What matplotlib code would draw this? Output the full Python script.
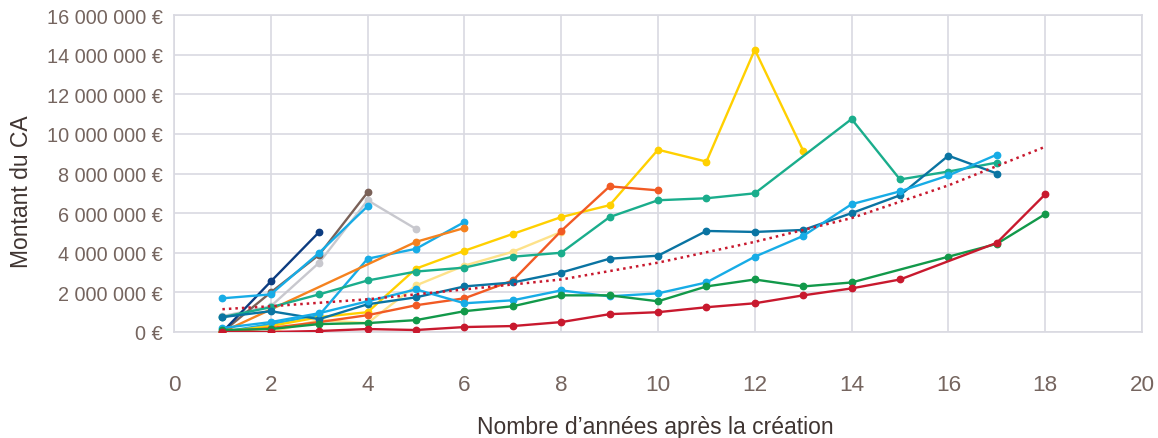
import matplotlib
matplotlib.use("Agg")
import matplotlib.pyplot as plt
from matplotlib.ticker import FuncFormatter, MultipleLocator

plt.rcParams['font.family'] = ['Liberation Sans', 'DejaVu Sans']

M = 1_000_000

# ---- data (years after creation, turnover in millions of €) ----
navy_x = [1, 2, 3]
navy_y = [0.0, 2.55, 5.05]

brown_x = [1, 2, 3, 4]
brown_y = [0.0, 2.0, 3.9, 7.05]

grey_x = [1, 2, 3, 4, 5]
grey_y = [0.8, 1.3, 3.5, 6.65, 5.2]

blueA_x = [1, 2, 3, 4]
blueA_y = [1.7, 1.9, 4.0, 6.35]

blueB_x = [1, 2, 3, 4, 5, 6]
blueB_y = [0.0, 0.4, 0.85, 3.7, 4.2, 5.55]

blueC_x = [1, 2, 3, 4, 5, 6, 7, 8, 9, 10, 11, 12, 13, 14, 15, 16, 17]
blueC_y = [0.2, 0.5, 0.95, 1.55, 2.15, 1.45, 1.6, 2.1, 1.8, 1.95, 2.5, 3.8,
           4.85, 6.45, 7.1, 7.9, 8.95]

orange_x = [1, 5, 6]
orange_y = [0.0, 4.55, 5.25]

vermil_x = [1, 2, 3, 4, 5, 6, 7, 8, 9, 10]
vermil_y = [0.0, 0.2, 0.5, 0.85, 1.35, 1.7, 2.6, 5.1, 7.35, 7.15]

gold_x = [1, 2, 3, 4, 5, 6, 7, 8, 9, 10, 11, 12, 13]
gold_y = [0.0, 0.3, 0.75, 1.0, 3.2, 4.1, 4.95, 5.8, 6.4, 9.2, 8.6, 14.25, 9.15]

pale_x = [1, 2, 3, 4, 5, 6, 7, 8]
pale_y = [0.0, 0.0, 0.6, 0.45, 2.35, 3.35, 4.05, 5.05]

teal_x = [1, 2, 3, 4, 5, 6, 7, 8, 9, 10, 11, 12, 14, 15, 16, 17]
teal_y = [0.75, 1.25, 1.9, 2.6, 3.05, 3.25, 3.8, 4.0, 5.8, 6.65, 6.75, 7.0,
          10.75, 7.7, 8.1, 8.55]

dteal_x = [1, 2, 3, 4, 5, 6, 7, 8, 9, 10, 11, 12, 13, 14, 15, 16, 17]
dteal_y = [0.75, 1.05, 0.65, 1.4, 1.75, 2.3, 2.5, 3.0, 3.7, 3.85, 5.1, 5.05,
           5.15, 6.0, 6.9, 8.9, 8.0]

green_x = [1, 2, 3, 4, 5, 6, 7, 8, 9, 10, 11, 12, 13, 14, 16, 17, 18]
green_y = [0.1, 0.15, 0.4, 0.45, 0.6, 1.05, 1.3, 1.85, 1.85, 1.55, 2.3, 2.65,
           2.3, 2.5, 3.8, 4.45, 5.95]

crimson_x = [1, 2, 3, 4, 5, 6, 7, 8, 9, 10, 11, 12, 13, 14, 15, 17, 18]
crimson_y = [0.0, 0.0, 0.05, 0.15, 0.1, 0.25, 0.3, 0.5, 0.9, 1.0, 1.25, 1.45,
             1.85, 2.2, 2.65, 4.5, 6.95]

trend_x = [1, 2, 4, 6, 8, 10, 12, 14, 16, 18]
trend_y = [1.15, 1.3, 1.65, 2.15, 2.65, 3.5, 4.55, 5.75, 7.4, 9.35]

x_ticks = [0, 2, 4, 6, 8, 10, 12, 14, 16, 18, 20]
y_ticks = [0, 2, 4, 6, 8, 10, 12, 14, 16]

series = [
    (grey_x, grey_y, '#c8c8ce'),
    (brown_x, brown_y, '#7a6158'),
    (navy_x, navy_y, '#0c3c80'),
    (blueA_x, blueA_y, '#17ace6'),
    (blueB_x, blueB_y, '#17ace6'),
    (orange_x, orange_y, '#f5821f'),
    (pale_x, pale_y, '#fde28a'),
    (gold_x, gold_y, '#ffd000'),
    (vermil_x, vermil_y, '#f15a24'),
    (teal_x, teal_y, '#1aad8c'),
    (dteal_x, dteal_y, '#0a74a2'),
    (blueC_x, blueC_y, '#17ace6'),
    (green_x, green_y, '#12994a'),
    (crimson_x, crimson_y, '#c8192e'),
]

fig = plt.figure(figsize=(11.58, 4.39), dpi=100)
ax = fig.add_axes([174 / 1158, 1 - 333 / 439, (1142 - 174) / 1158, (333 - 16) / 439])

grid_c = '#d9d9e1'
for xs, ys, c in series:
    ax.plot(xs, [v * M for v in ys], color=c, lw=1.7, marker='o', ms=4.6,
            solid_capstyle='round', zorder=3)

ax.plot(trend_x, [v * M for v in trend_y], color='#c8192e', lw=1.8,
        linestyle=(0, (1, 1.6)), zorder=4)

ax.set_xlim(0, 20)
ax.set_ylim(0, 16 * M)
ax.set_xticks(x_ticks)
ax.set_yticks([v * M for v in y_ticks])
ax.yaxis.set_major_formatter(FuncFormatter(
    lambda v, p: f"{v:,.0f}".replace(",", " ") + " €"))

ax.grid(True, color=grid_c, lw=1.2, zorder=0)
ax.set_axisbelow(True)
for s in ax.spines.values():
    s.set_color(grid_c)
    s.set_linewidth(1.2)

tick_c = '#75655f'
ax.tick_params(axis='both', length=0)
ax.tick_params(axis='y', labelsize=14.3, labelcolor=tick_c, pad=8)
ax.tick_params(axis='x', labelsize=16.2, labelcolor=tick_c, pad=30)

lab_c = '#3f3431'
fig.text(22 / 1158, 1 - 192 / 439, 'Montant du CA', rotation=90,
         ha='center', va='center', fontsize=16.5, color=lab_c)
fig.text(655 / 1158, 1 - 428 / 439, 'Nombre d’années après la création',
         ha='center', va='center', fontsize=16.5, color=lab_c)

fig.savefig('out.png', dpi=100)
